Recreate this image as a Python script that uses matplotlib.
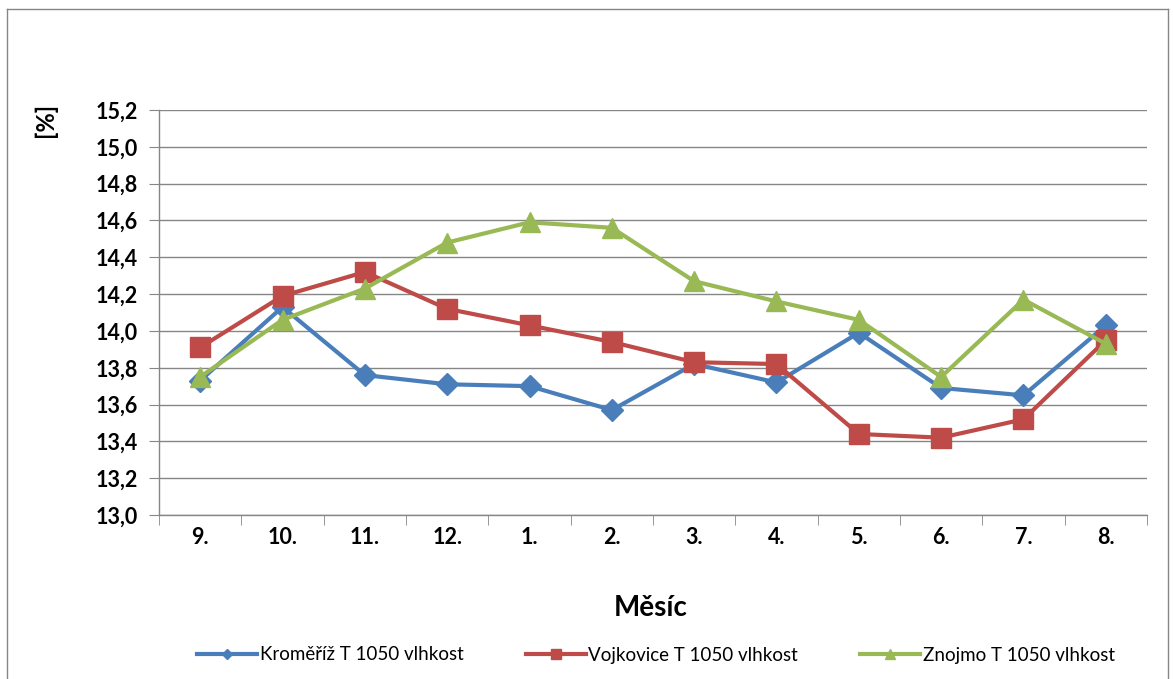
import matplotlib
matplotlib.use("Agg")
import matplotlib.pyplot as plt
from matplotlib.lines import Line2D

months = ["9.", "10.", "11.", "12.", "1.", "2.", "3.", "4.", "5.", "6.", "7.", "8."]
kromeriz = [13.73, 14.13, 13.76, 13.71, 13.70, 13.57, 13.82, 13.72, 13.99, 13.69, 13.65, 14.03]
vojkovice = [13.91, 14.19, 14.32, 14.12, 14.03, 13.94, 13.83, 13.82, 13.44, 13.42, 13.52, 13.95]
znojmo = [13.75, 14.06, 14.23, 14.48, 14.59, 14.56, 14.27, 14.16, 14.06, 13.75, 14.17, 13.93]
series_names = ["Kroměříž T 1050 vlhkost", "Vojkovice T 1050 vlhkost", "Znojmo T 1050 vlhkost"]
yticks = [13.0, 13.2, 13.4, 13.6, 13.8, 14.0, 14.2, 14.4, 14.6, 14.8, 15.0, 15.2]

plt.rcParams['font.family'] = ['Lato', 'DejaVu Sans']

W, H = 1173, 679
fig = plt.figure(figsize=(W / 100, H / 100), dpi=100)
ax = fig.add_axes([159 / W, 1 - 515 / H, (1147 - 159) / W, (515 - 110) / H])

x = list(range(len(months)))
colors = ["#4A7EBB", "#BE4B48", "#98B954"]
markers = ["D", "s", "^"]
msizes = [11, 14, 14]
for vals, c, m, ms, name in zip([kromeriz, vojkovice, znojmo], colors, markers, msizes, series_names):
    ax.plot(x, vals, color=c, lw=3, marker=m, markersize=ms, markeredgecolor=c, label=name, zorder=3)

ax.set_xlim(-0.5, len(months) - 0.5)
ax.set_ylim(13.0, 15.2)
ax.set_yticks(yticks)
ax.set_yticklabels([f"{v:.1f}".replace(".", ",") for v in yticks], fontsize=15.5, fontweight='bold')
ax.set_xticks(x)
ax.set_xticklabels(months, fontsize=15.5, fontweight='bold')
ax.set_xticks([i - 0.5 for i in range(len(months) + 1)], minor=True)
ax.tick_params(axis='x', which='major', length=0, pad=9)
ax.tick_params(axis='x', which='minor', length=7, color='#868686', direction='out')
ax.tick_params(axis='y', length=7, color='#868686', direction='out', pad=8)
ax.grid(axis='y', color='#868686', lw=1)
ax.set_axisbelow(True)
for s in ['top', 'right']:
    ax.spines[s].set_visible(False)
for s in ['left', 'bottom']:
    ax.spines[s].set_color('#868686')
    ax.spines[s].set_linewidth(1)

fig.text(651 / W, 1 - 608 / H, "Měsíc", ha='center', va='center', fontsize=20, fontweight='bold')
fig.text(45 / W, 1 - 120 / H, "[%]", ha='center', va='center', rotation=90, fontsize=17, fontweight='bold')

handles = [Line2D([0], [0], color=c, lw=3, marker=m, markersize=ms * 0.5, markeredgecolor=c)
           for c, m, ms in zip(colors, markers, msizes)]
fig.legend(handles, series_names, loc='center', bbox_to_anchor=(656 / W, 1 - 655 / H), ncol=3,
           frameon=False, fontsize=13.5, handlelength=3.2, handletextpad=0.15, columnspacing=3.3)

# outer chart border
fig.add_artist(Line2D([7 / W, 7 / W], [0, 1 - 9 / H], color='#868686', lw=1, transform=fig.transFigure))
fig.add_artist(Line2D([7 / W, 1168 / W], [1 - 9 / H, 1 - 9 / H], color='#868686', lw=1, transform=fig.transFigure))
fig.add_artist(Line2D([1168 / W, 1168 / W], [0, 1 - 9 / H], color='#868686', lw=1, transform=fig.transFigure))

fig.savefig("out.png", dpi=100)
